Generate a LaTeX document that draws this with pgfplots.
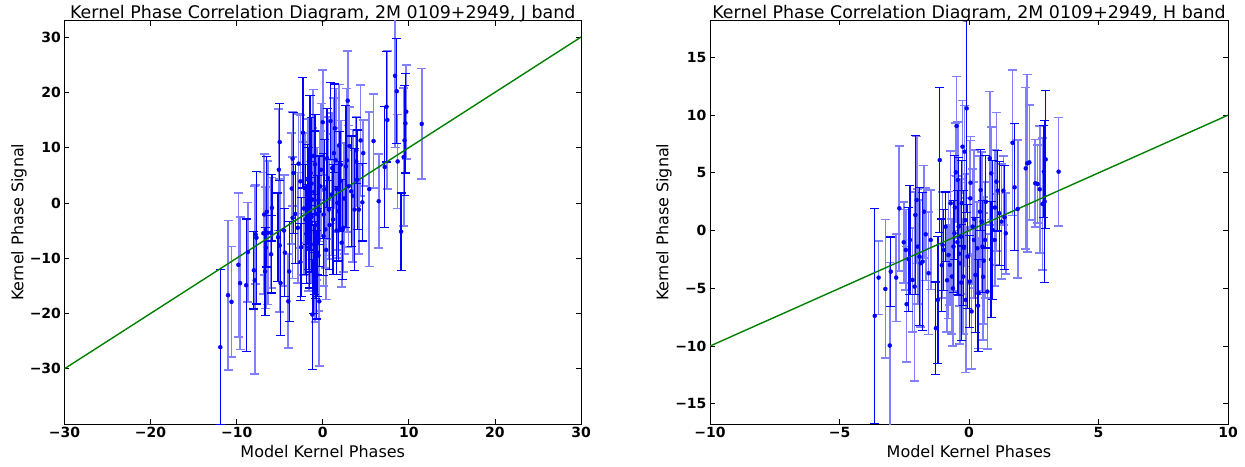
\documentclass[border=0pt]{standalone}
\usepackage{fontspec}
\setmainfont{DejaVu Sans}
\usepackage{pgfplots}
\usepackage{pgfplotstable}
\pgfplotsset{compat=1.18}
\definecolor{mplgreen}{rgb}{0,0.5,0}
\definecolor{mplblue}{rgb}{0,0,1}
\definecolor{lightblue}{rgb}{0.5,0.5,1}

% Left panel (J band): x y err
\pgfplotstableread{
x y e
-11.9 -26.1 14
-8.9 -14.9 12
-8.0 -12.2 7
-7.7 -6.3 12
-6.7 -12.4 8
-6.5 -1.6 10
-6.0 -9.3 7
-5.9 -0.9 6
-5.2 -6.2 8
-5.0 11.0 7
-4.9 -14.5 9.5
-3.9 -12.4 9
-3.4 5.4 11
-2.5 -8.0 9
-2.6 -10.7 7
-2.3 12.7 10
-1.9 -5.6 9
-1.5 -5.4 10
-1.4 5.4 14
-1.2 -20.2 10
-0.8 -10.3 7
-0.6 -9.0 8
0.1 -2.1 11
0.5 8.1 9
0.9 14.8 7
1.4 13.5 8
1.6 -5.0 8
2.0 3.9 9
2.3 -4.8 9
2.7 6.6 11
3.3 2.1 10
3.7 -1.2 11
3.9 9.5 6
4.0 4.2 9
4.6 0.1 7
7.2 6.5 11
7.4 17.4 10
8.6 20.2 9.5
9.1 -5.2 7
9.5 11.3 10
9.6 14.4 9
-1.8 1.5 9
-1.3 -2.5 10
-1.0 2.0 11
-0.5 0.5 8
-1.1 -12.0 8
-1.5 9.5 10
1.2 -3.0 10
-0.6 -4.0 9
-1.0 -7.5 9
-0.7 -13.0 8
-1.3 3.5 12
-0.4 -1.5 10
0.2 2.5 9
-2.0 -3.0 10
-3.2 -2.0 9
0.8 -4.0 8
1.8 -1.5 9
-1.6 -1.0 11
-0.9 7.0 9
-4.4 -9.0 8
}\leftdark
\pgfplotstableread{
x y e
-11.0 -16.7 13.5
-10.6 -17.9 10
-9.8 -11.2 13
-9.6 -14.5 12
-8.7 -8.9 9
-7.9 -14.0 17
-7.8 -5.7 9
-6.9 -5.5 11
-6.8 -2.1 11
-6.6 -8.1 11
-6.4 -5.4 13
-6.0 -5.4 10
-5.1 6.0 11
-5.0 -7.7 12
-4.0 -17.8 8.5
-3.6 2.6 10
-3.5 8.0 8.5
-3.5 -2.7 11
-2.8 7.1 9
-2.6 3.9 12
-2.1 2.7 10
-1.7 4.2 11
-1.2 0.6 13
-0.9 -5.4 10
-0.7 -2.0 12
-0.4 -17.8 11.7
-0.3 3.0 10
0.0 14.6 9.5
0.3 -4.8 7
0.7 -1.2 9
1.1 6.3 10
1.5 7.7 13
1.6 2.5 11
1.7 0.0 10
1.9 10.4 11
2.1 6.9 8
2.2 -7.2 8
2.5 0.8 10
2.8 7.7 13
2.9 18.5 9
3.1 10.3 7
3.5 1.3 12
3.9 7.5 8
4.2 -1.2 8
4.4 11.3 10
4.7 9.0 6
5.4 2.5 14
5.9 11.2 8.5
6.5 0.3 8.5
7.5 15.0 12.5
8.4 23.0 13
8.7 7.5 8.5
9.4 8.3 12.5
9.7 16.5 8.5
11.5 14.3 10
-0.8 -6.5 9
-0.9 -14.5 7
-0.2 6.0 12
0.4 -8.5 9
-2.2 -1.0 12
1.0 1.5 11
2.4 -4.5 8
-1.6 -8.0 8
-1.4 -3.5 11
-0.5 -9.5 10
0.6 4.5 11
-2.9 -4.5 10
1.3 9.0 10
-1.1 8.5 12
0.1 -6.0 9
3.0 3.0 11
-4.5 -5.0 10
}\leftlight

% Right panel (H band)
\pgfplotstableread{
x y e
-3.64 -7.38 9.3
-3.02 -3.55 3.0
-2.33 -2.48 4.5
-2.28 -0.81 4.7
-2.07 1.36 6.9
-1.91 -2.25 6
-1.79 -2.68 6
-1.28 -8.45 4
-1.20 -6.0 5.5
-1.13 6.11 6.3
-0.97 -1.67 3.5
-0.90 0.35 3
-0.60 -1.38 4
-0.40 0.35 6
-0.28 2.37 3.7
-0.09 10.59 9
-0.06 -2.25 4.5
0.03 -4.41 4
0.25 -3.84 5
0.45 3.52 3.5
0.52 -1.38 4
0.91 0.06 6
1.11 3.46 3.5
1.17 1.50 4.5
1.37 1.15 4.5
1.76 3.75 5.5
2.89 5.11 4
2.92 2.51 7
2.96 6.17 6
-0.30 -4.5 5
-0.45 -1.0 4.5
0.65 2.5 4
-0.20 -1.5 5
0.35 -6.5 4
-0.55 2.0 4.5
0.85 -2.5 5
-1.05 -3.0 4
}\rightdark
\pgfplotstableread{
x y e
-3.49 -4.07 3.2
-3.23 -5.05 6.0
-3.06 -9.95 7.2
-2.81 -4.07 3.8
-2.69 1.93 5.4
-2.52 -1.01 3.5
-2.44 -1.67 3.5
-2.41 -6.37 5
-2.18 -4.27 4.5
-2.10 -4.85 8.2
-2.02 2.65 5.5
-1.98 -1.38 5
-1.87 -2.83 5.5
-1.74 1.64 4
-1.67 -0.32 4
-1.56 -3.69 5.3
-1.48 -0.81 4.3
-1.02 -1.24 4.6
-0.79 -2.11 5.5
-0.74 -2.97 3.5
-0.71 2.37 4.5
-0.66 -3.98 5
-0.56 -0.23 5
-0.51 5.05 4.3
-0.48 9.06 4.3
-0.43 4.38 5
-0.35 -2.83 7
-0.31 -0.52 5
-0.25 7.27 4
-0.22 -3.98 5
-0.17 6.84 4
-0.12 -6.0 6.3
0.06 4.15 4
0.14 0.35 5
0.19 -0.81 5
0.32 -1.53 4
0.37 -5.42 4.8
0.42 1.64 4.8
0.49 0.78 6
0.57 -2.60 5.5
0.62 -0.81 5
0.71 -5.28 5
0.80 6.26 5.8
0.86 4.96 4
0.99 -0.81 4
1.06 4.24 6
1.25 0.78 5
1.33 3.46 3
1.42 -0.23 3.5
1.68 7.61 6.3
1.88 1.87 6
2.19 5.39 7
2.25 5.83 7.7
2.33 5.91 5
2.56 4.10 3.8
2.65 4.04 3.4
2.73 3.58 5.5
2.84 2.31 5.7
3.46 5.11 4.7
0.10 -7.0 5
0.20 1.0 6
-0.62 -5.0 5
-0.38 -2.0 4.5
0.05 2.8 5
0.55 -4.0 5.5
-0.85 -4.3 4.5
1.00 2.0 5
-0.15 0.9 4
}\rightlight

\pgfplotsset{
  every axis title shift=0pt,
  kp/.style={
    scale only axis,
    axis line style={black, line width=0.9pt},
    tick style={black, line width=0.8pt},
    major tick length=5pt,
    tick align=inside,
    xtick pos=both, ytick pos=both,
    tick label style={font=\fontsize{14}{14}\selectfont\bfseries},
    title style={font=\fontsize{17.4}{18}\selectfont, at={(axis description cs:0.5,1)}, anchor=base, yshift=1.5pt, inner sep=0pt},
    xlabel style={font=\fontsize{16}{16}\selectfont, at={(axis description cs:0.5,-0.052)}, anchor=north, inner sep=0pt},
    ylabel style={font=\fontsize{16}{16}\selectfont, anchor=north, inner sep=0pt},
    xlabel={Model Kernel Phases},
    ylabel={Kernel Phase Signal},
  },
  darkbars/.style={
    only marks, mark=*, mark size=2pt, color=blue,
    error bars/.cd, y dir=both, y explicit,
    error bar style={line width=1.2pt, blue},
    error mark options={rotate=90, mark size=4.5pt, line width=1.2pt, blue},
  },
  lightbars/.style={
    only marks, mark=*, mark size=2pt, color=mplblue,
    error bars/.cd, y dir=both, y explicit,
    error bar style={line width=1.7pt, lightblue},
    error mark options={rotate=90, mark size=4.5pt, line width=1.7pt, lightblue},
  },
}

\begin{document}
\begin{tikzpicture}
\path[use as bounding box] (0,0) rectangle (1245pt,466pt);

\begin{axis}[kp,
  at={(64.5pt,42pt)}, anchor=south west,
  width=516.5pt, height=403.5pt,
  xmin=-30, xmax=30, ymin=-40, ymax=33,
  xtick={-30,-20,-10,0,10,20,30},
  xticklabels={−30,−20,−10,0,10,20,30},
  ytick={-30,-20,-10,0,10,20,30},
  yticklabels={−30,−20,−10,0,10,20,30},
  title={Kernel Phase Correlation Diagram, 2M 0109+2949, J band},
  ylabel style={at={(axis description cs:-0.1036,0.5)}},
]
\addplot[lightbars] table[x=x, y=y, y error=e] {\leftlight};
\addplot[darkbars] table[x=x, y=y, y error=e] {\leftdark};
\addplot[mplgreen, line width=1.4pt, no marks] coordinates {(-30,-30) (30,30)};
\end{axis}

\begin{axis}[kp,
  at={(710pt,42pt)}, anchor=south west,
  width=518pt, height=403.5pt,
  xmin=-10, xmax=10, ymin=-16.75, ymax=18.2,
  xtick={-10,-5,0,5,10},
  xticklabels={−10,−5,0,5,10},
  ytick={-15,-10,-5,0,5,10,15},
  yticklabels={−15,−10,−5,0,5,10,15},
  title={Kernel Phase Correlation Diagram, 2M 0109+2949, H band},
  ylabel style={at={(axis description cs:-0.1042,0.5)}},
]
\addplot[lightbars] table[x=x, y=y, y error=e] {\rightlight};
\addplot[darkbars] table[x=x, y=y, y error=e] {\rightdark};
\addplot[mplgreen, line width=1.4pt, no marks] coordinates {(-10,-10) (10,10)};
\end{axis}
\end{tikzpicture}
\end{document}
